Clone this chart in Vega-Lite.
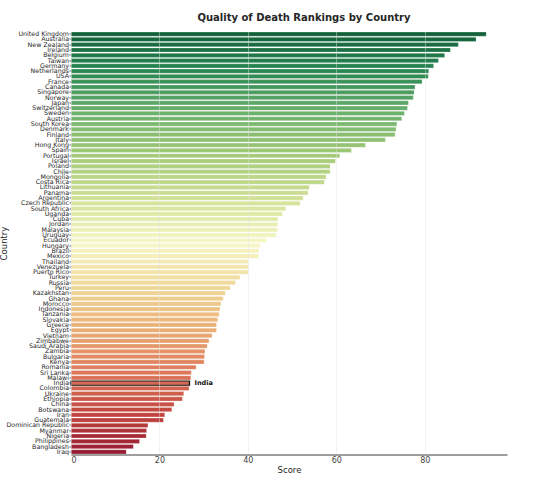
{
  "$schema": "https://vega.github.io/schema/vega-lite/v6.json",
  "autosize": "none",
  "width": 436,
  "height": 423,
  "padding": {"left": 71, "top": 31.5, "right": 42, "bottom": 27.5},
  "background": "white",
  "title": {
    "text": "Quality of Death Rankings by Country",
    "fontSize": 10,
    "fontWeight": "bold",
    "color": "#262626",
    "offset": 8,
    "dx": 15
  },
  "data": {
    "values": [
      {"Country": "United Kingdom", "Score": 93.9, "rank": 0},
      {"Country": "Australia", "Score": 91.6, "rank": 1},
      {"Country": "New Zealand", "Score": 87.6, "rank": 2},
      {"Country": "Ireland", "Score": 85.8, "rank": 3},
      {"Country": "Belgium", "Score": 84.5, "rank": 4},
      {"Country": "Taiwan", "Score": 83.1, "rank": 5},
      {"Country": "Germany", "Score": 82.0, "rank": 6},
      {"Country": "Netherlands", "Score": 80.9, "rank": 7},
      {"Country": "USA", "Score": 80.8, "rank": 8},
      {"Country": "France", "Score": 79.4, "rank": 9},
      {"Country": "Canada", "Score": 77.8, "rank": 10},
      {"Country": "Singapore", "Score": 77.6, "rank": 11},
      {"Country": "Norway", "Score": 77.4, "rank": 12},
      {"Country": "Japan", "Score": 76.3, "rank": 13},
      {"Country": "Switzerland", "Score": 76.1, "rank": 14},
      {"Country": "Sweden", "Score": 75.4, "rank": 15},
      {"Country": "Austria", "Score": 74.8, "rank": 16},
      {"Country": "South Korea", "Score": 73.7, "rank": 17},
      {"Country": "Denmark", "Score": 73.5, "rank": 18},
      {"Country": "Finland", "Score": 73.3, "rank": 19},
      {"Country": "Italy", "Score": 71.1, "rank": 20},
      {"Country": "Hong Kong", "Score": 66.6, "rank": 21},
      {"Country": "Spain", "Score": 63.4, "rank": 22},
      {"Country": "Portugal", "Score": 60.8, "rank": 23},
      {"Country": "Israel", "Score": 59.8, "rank": 24},
      {"Country": "Poland", "Score": 58.6, "rank": 25},
      {"Country": "Chile", "Score": 58.6, "rank": 26},
      {"Country": "Mongolia", "Score": 57.7, "rank": 27},
      {"Country": "Costa Rica", "Score": 57.3, "rank": 28},
      {"Country": "Lithuania", "Score": 53.9, "rank": 29},
      {"Country": "Panama", "Score": 53.6, "rank": 30},
      {"Country": "Argentina", "Score": 52.5, "rank": 31},
      {"Country": "Czech Republic", "Score": 51.8, "rank": 32},
      {"Country": "South Africa", "Score": 48.6, "rank": 33},
      {"Country": "Uganda", "Score": 47.8, "rank": 34},
      {"Country": "Cuba", "Score": 46.8, "rank": 35},
      {"Country": "Jordan", "Score": 46.8, "rank": 36},
      {"Country": "Malaysia", "Score": 46.7, "rank": 37},
      {"Country": "Uruguay", "Score": 46.4, "rank": 38},
      {"Country": "Ecuador", "Score": 44.2, "rank": 39},
      {"Country": "Hungary", "Score": 42.8, "rank": 40},
      {"Country": "Brazil", "Score": 42.5, "rank": 41},
      {"Country": "Mexico", "Score": 42.4, "rank": 42},
      {"Country": "Thailand", "Score": 40.1, "rank": 43},
      {"Country": "Venezuela", "Score": 40.1, "rank": 44},
      {"Country": "Puerto Rico", "Score": 40.1, "rank": 45},
      {"Country": "Turkey", "Score": 38.2, "rank": 46},
      {"Country": "Russia", "Score": 37.2, "rank": 47},
      {"Country": "Peru", "Score": 36.0, "rank": 48},
      {"Country": "Kazakhstan", "Score": 34.9, "rank": 49},
      {"Country": "Ghana", "Score": 34.4, "rank": 50},
      {"Country": "Morocco", "Score": 33.9, "rank": 51},
      {"Country": "Indonesia", "Score": 33.7, "rank": 52},
      {"Country": "Tanzania", "Score": 33.5, "rank": 53},
      {"Country": "Slovakia", "Score": 33.2, "rank": 54},
      {"Country": "Greece", "Score": 32.9, "rank": 55},
      {"Country": "Egypt", "Score": 32.9, "rank": 56},
      {"Country": "Vietnam", "Score": 31.9, "rank": 57},
      {"Country": "Zimbabwe", "Score": 31.2, "rank": 58},
      {"Country": "Saudi Arabia", "Score": 30.8, "rank": 59},
      {"Country": "Zambia", "Score": 30.3, "rank": 60},
      {"Country": "Bulgaria", "Score": 30.2, "rank": 61},
      {"Country": "Kenya", "Score": 30.1, "rank": 62},
      {"Country": "Romania", "Score": 28.3, "rank": 63},
      {"Country": "Sri Lanka", "Score": 27.2, "rank": 64},
      {"Country": "Malawi", "Score": 27.1, "rank": 65},
      {"Country": "India", "Score": 26.8, "rank": 66},
      {"Country": "Colombia", "Score": 26.7, "rank": 67},
      {"Country": "Ukraine", "Score": 25.5, "rank": 68},
      {"Country": "Ethiopia", "Score": 25.2, "rank": 69},
      {"Country": "China", "Score": 23.3, "rank": 70},
      {"Country": "Botswana", "Score": 22.8, "rank": 71},
      {"Country": "Iran", "Score": 21.2, "rank": 72},
      {"Country": "Guatemala", "Score": 20.9, "rank": 73},
      {"Country": "Dominican Republic", "Score": 17.4, "rank": 74},
      {"Country": "Myanmar", "Score": 17.1, "rank": 75},
      {"Country": "Nigeria", "Score": 17.0, "rank": 76},
      {"Country": "Philippines", "Score": 15.5, "rank": 77},
      {"Country": "Bangladesh", "Score": 14.1, "rank": 78},
      {"Country": "Iraq", "Score": 12.5, "rank": 79}
    ]
  },
  "encoding": {
    "y": {
      "field": "Country",
      "type": "nominal",
      "sort": null,
      "title": "Country",
      "scale": {"paddingInner": 0.2, "paddingOuter": 0.1},
      "axis": {
        "domain": false,
        "grid": false,
        "labelFontSize": 6.3,
        "labelColor": "#262626",
        "labelOverlap": false,
        "labelPadding": 0.5,
        "tickSize": 2,
        "tickColor": "#555555",
        "titleFontSize": 8.5,
        "titleFontWeight": "normal",
        "titleColor": "#262626",
        "titleX": -63,
        "titleY": 211.5
      }
    },
    "x": {
      "field": "Score",
      "type": "quantitative",
      "title": "Score",
      "scale": {"domain": [0, 98.6], "nice": false},
      "axis": {
        "values": [0, 20, 40, 60, 80],
        "grid": true,
        "gridColor": "#e2e2e2",
        "gridOpacity": 0.45,
        "domainColor": "#9e9e9e",
        "domainWidth": 1.8,
        "ticks": false,
        "labelFontSize": 8,
        "labelColor": "#444444",
        "labelPadding": 1.5,
        "titleFontSize": 8.5,
        "titleFontWeight": "normal",
        "titleColor": "#262626",
        "titlePadding": 1,
        "zindex": 1
      }
    }
  },
  "layer": [
    {
      "mark": {"type": "bar", "stroke": "white", "strokeWidth": 0.5, "strokeOpacity": 0.6},
      "encoding": {
        "color": {
          "field": "rank",
          "type": "quantitative",
          "legend": null,
          "scale": {
            "domain": [-1, 7.1, 15.2, 23.3, 31.4, 39.5, 47.6, 55.7, 63.8, 71.9, 80],
            "range": ["#0d5b36", "#2a8852", "#70b26e", "#a5cb78", "#d2e297", "#f7f7c7", "#f0d999", "#eaae74", "#de7959", "#c1443d", "#901531"],
            "interpolate": "rgb"
          }
        }
      }
    },
    {
      "transform": [{"filter": "datum.Country === 'India'"}],
      "mark": {"type": "bar", "fillOpacity": 0, "stroke": "#111111", "strokeWidth": 1.2}
    },
    {
      "transform": [{"filter": "datum.Country === 'India'"}],
      "mark": {"type": "text", "align": "left", "baseline": "middle", "dx": 5, "fontSize": 6.5, "fontWeight": "bold", "color": "#111111"},
      "encoding": {"text": {"field": "Country"}}
    }
  ],
  "config": {
    "font": "DejaVu Sans",
    "view": {"stroke": null}
  }
}
